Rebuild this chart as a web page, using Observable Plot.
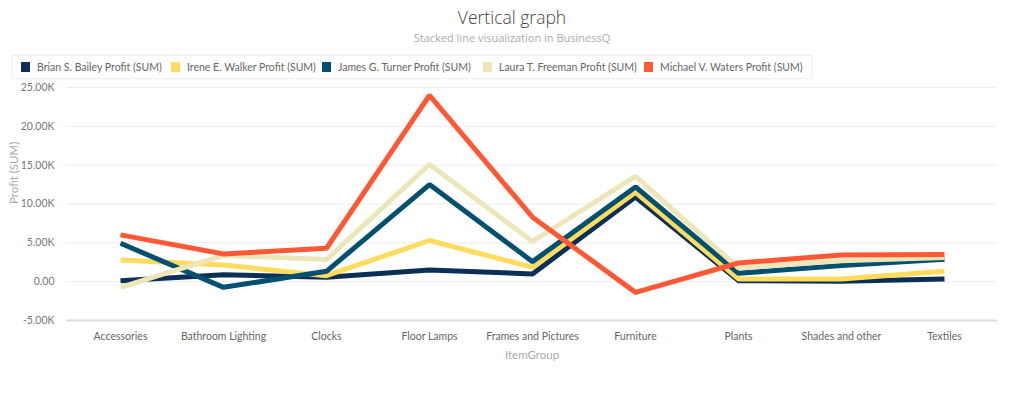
<!DOCTYPE html>
<html>
<head>
<meta charset="utf-8">
<script src="https://cdn.jsdelivr.net/npm/d3@7"></script>
<script src="https://cdn.jsdelivr.net/npm/@observablehq/plot@0.6"></script>
<style>
  html, body { margin: 0; padding: 0; background: #fff; }
  body { width: 1024px; height: 395px; overflow: hidden; font-family: "Open Sans", sans-serif; position: relative; }
  #title { position: absolute; top: 6px; left: 0; width: 1024px; text-align: center; font-size: 17.5px; line-height: 22px; font-weight: 300; color: #444; }
  #subtitle { position: absolute; top: 30px; left: 0; width: 1024px; text-align: center; font-size: 11px; line-height: 15px; color: #aaa; }
  #legend { position: absolute; top: 55px; left: 12px; width: 798px; height: 22px; border: 1px solid #f0f0f0; box-shadow: 0 0 2px rgba(0,0,0,0.05); }
  .item { position: absolute; top: 0; height: 22px; line-height: 22px; font-family: Lato, sans-serif; font-size: 10.5px; color: #666; white-space: nowrap; }
  .sw { display: inline-block; width: 9px; height: 10px; vertical-align: -1px; margin-right: 7px; }
  #chart { position: absolute; top: 80px; left: 0; }
</style>
</head>
<body>
<div id="title">Vertical graph</div>
<div id="subtitle">Stacked line visualization in BusinessQ</div>
<div id="legend"></div>
<div id="chart"></div>
<script>
const categories = ["Accessories", "Bathroom Lighting", "Clocks", "Floor Lamps", "Frames and Pictures", "Furniture", "Plants", "Shades and other", "Textiles"];
const seriesNames = ["Brian S. Bailey Profit (SUM)", "Irene E. Walker Profit (SUM)", "James G. Turner Profit (SUM)", "Laura T. Freeman Profit (SUM)", "Michael V. Waters Profit (SUM)"];
const seriesColors = ["#0b2f55", "#ffdb5e", "#02506f", "#ece6b8", "#ff5834"];
const brian   = [130, 900, 560, 1500, 1000, 10900, 130, 50, 350];
const irene   = [2800, 2150, 770, 5300, 1850, 11500, 350, 350, 1330];
const james   = [4950, -730, 1330, 12500, 2580, 12200, 1080, 2070, 2900];
const laura   = [-730, 3400, 2840, 15100, 5170, 13570, 1770, 2700, 3100];
const michael = [6030, 3570, 4300, 24000, 8300, -1380, 2400, 3440, 3490];
const yTicks = [-5000, 0, 5000, 10000, 15000, 20000, 25000];

const seriesValues = [brian, irene, james, laura, michael];
const data = [];
seriesNames.forEach((s, i) => categories.forEach((c, j) => data.push({series: s, cat: c, value: seriesValues[i][j]})));

// legend
const legendX = [8, 158, 309, 470, 631];
const legend = document.getElementById("legend");
seriesNames.forEach((s, i) => {
  const d = document.createElement("div");
  d.className = "item";
  d.style.left = legendX[i] + "px";
  d.innerHTML = `<span class="sw" style="background:${seriesColors[i]}"></span>${s}`;
  legend.appendChild(d);
});

const fmt = d => d === 0 ? "0.00" : (d / 1000).toFixed(2) + "K";

const chart = Plot.plot({
  width: 1024,
  height: 315,
  marginLeft: 66,
  marginRight: 27,
  marginTop: 7,
  marginBottom: 75,
  style: {fontFamily: "Lato, sans-serif", fontSize: "10.5px", color: "#666", background: "transparent"},
  x: {type: "point", domain: categories, padding: 0.5, label: null},
  y: {domain: [-5000, 25000], label: null},
  color: {domain: seriesNames, range: seriesColors},
  marks: [
    Plot.gridY(yTicks.filter(t => t > -5000), {stroke: "#ececec", strokeOpacity: 1}),
    Plot.ruleY([-5000], {stroke: "#dcdcdc", strokeWidth: 2}),
    Plot.ruleX([0], {frameAnchor: "left", stroke: "#e2e2e2", strokeWidth: 1.5}),
    Plot.axisY(yTicks, {tickSize: 0, tickPadding: 12, tickFormat: fmt, fill: "#777", fontSize: 10.5}),
    Plot.axisX({tickSize: 0, tickPadding: 12, fill: "#666", fontSize: 10.5, label: null}),
    Plot.text(["Profit (SUM)"], {frameAnchor: "left", dx: -52, rotate: -90, fill: "#aaa", fontSize: 11.5}),
    Plot.text(["ItemGroup"], {frameAnchor: "bottom", dy: 38, fill: "#aaa", fontSize: 11.5}),
    Plot.lineY(data, {x: "cat", y: "value", z: "series", stroke: "series", strokeWidth: 5, strokeLinejoin: "miter", strokeLinecap: "butt"})
  ]
});
document.getElementById("chart").appendChild(chart);
</script>
</body>
</html>
